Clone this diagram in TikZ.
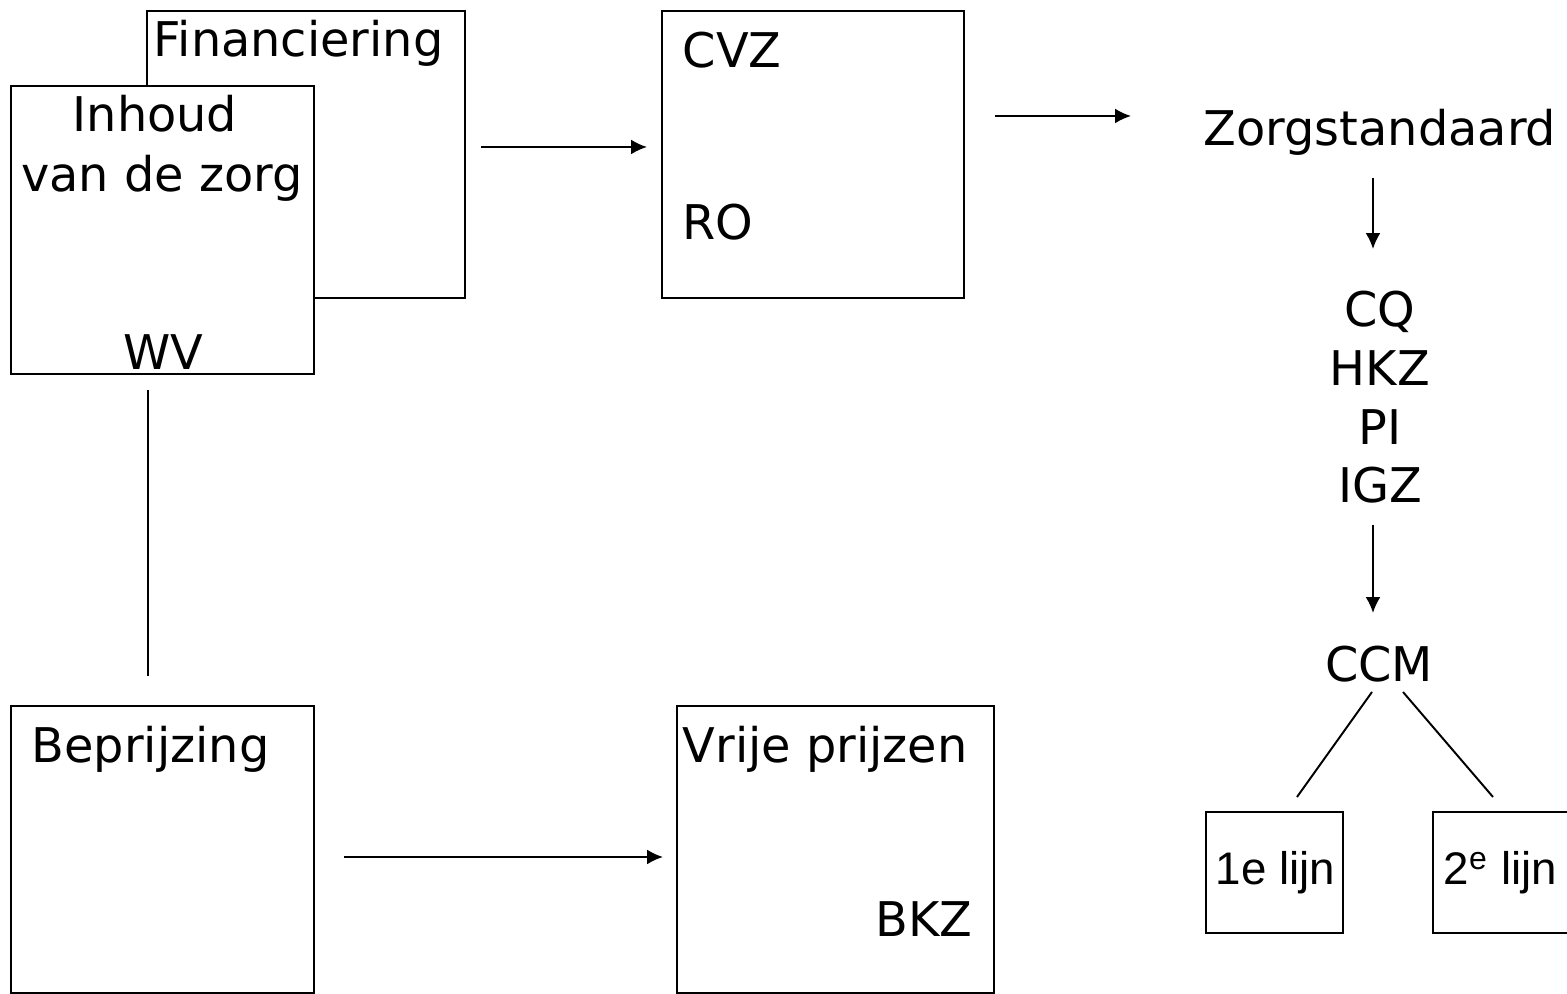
\documentclass[tikz,border=0pt]{standalone}
\usepackage{fontspec}
\setmainfont{DejaVu Sans}
\newfontfamily\arialfont{Liberation Sans}
\usetikzlibrary{arrows.meta}

\tikzset{
    box/.style={draw, line width=0.55pt, fill=white, inner sep=0pt, outer sep=0pt, anchor=north west},
    lbl/.style={inner sep=0pt, font=\fontsize{13.6}{17}\selectfont},
    lijnlbl/.style={inner sep=0pt, font=\arialfont\fontsize{13}{16}\selectfont},
    arr/.style={line width=0.55pt, -{Latex[length=4.5pt, width=4.2pt]}},
    link/.style={line width=0.55pt}
}

\begin{document}
\begin{tikzpicture}
    \useasboundingbox (0,0) rectangle (15.67,-9.94);

    % Top left: the two stacked boxes
    \node[box, minimum width=3.18cm, minimum height=2.87cm] (fin) at (1.47,-0.11) {};
    \node[lbl, anchor=base west] (finlbl) at (1.53,-0.57) {Financiering};
    \node[box, minimum width=3.03cm, minimum height=2.88cm] (inhoud) at (0.11,-0.86) {};
    \node[lbl, anchor=base] (inhoudlbl) at (1.55,-1.32) {Inhoud};
    \node[lbl, anchor=base] (zorglbl) at (1.62,-1.92) {van de zorg};
    \node[lbl, anchor=base] (wv) at (1.63,-3.70) {WV};

    % CVZ box
    \node[box, minimum width=3.02cm, minimum height=2.87cm] (cvz) at (6.62,-0.11) {};
    \node[lbl, anchor=base west] (cvzlbl) at (6.82,-0.68) {CVZ};
    \node[lbl, anchor=base west] (ro) at (6.82,-2.40) {RO};

    % Bottom boxes
    \node[box, minimum width=3.03cm, minimum height=2.87cm] (bepr) at (0.11,-7.06) {};
    \node[lbl, anchor=base west] (beprlbl) at (0.31,-7.63) {Beprijzing};
    \node[box, minimum width=3.17cm, minimum height=2.87cm] (vrij) at (6.77,-7.06) {};
    \node[lbl, anchor=base west] (vrijlbl) at (6.82,-7.63) {Vrije prijzen};
    \node[lbl, anchor=base east] (bkz) at (9.73,-9.37) {BKZ};

    % Right column
    \node[lbl, anchor=base] (zs) at (13.80,-1.46) {Zorgstandaard};
    \node[lbl, anchor=base] (cq) at (13.80,-3.27) {CQ};
    \node[lbl, anchor=base] (hkz) at (13.80,-3.86) {HKZ};
    \node[lbl, anchor=base] (pi) at (13.80,-4.45) {PI};
    \node[lbl, anchor=base] (igz) at (13.80,-5.03) {IGZ};
    \node[lbl, anchor=base] (ccm) at (13.79,-6.82) {CCM};

    % 1e / 2e lijn
    \node[box, minimum width=1.37cm, minimum height=1.21cm] (lijn1) at (12.06,-8.12) {};
    \node[lijnlbl, anchor=base west] (lijn1lbl) at (12.15,-8.85) {1e lijn};
    \node[box, minimum width=1.45cm, minimum height=1.21cm] (lijn2) at (14.33,-8.12) {};
    \node[lijnlbl, anchor=base west] (lijn2lbl) at (14.43,-8.85) {2\textsuperscript{e} lijn};

    % Arrow ends
    \coordinate (a1s) at (4.81,-1.47);
    \coordinate (a1e) at (6.47,-1.47);
    \coordinate (a2s) at (9.95,-1.16);
    \coordinate (a2e) at (11.31,-1.16);
    \coordinate (a3s) at (3.44,-8.57);
    \coordinate (a3e) at (6.63,-8.57);
    \coordinate (a4s) at (13.73,-1.78);
    \coordinate (a4e) at (13.73,-2.49);
    \coordinate (a5s) at (13.73,-5.25);
    \coordinate (a5e) at (13.73,-6.13);
    \coordinate (v1s) at (1.48,-3.90);
    \coordinate (v1e) at (1.48,-6.76);
    \coordinate (c1s) at (13.72,-6.92);
    \coordinate (c1e) at (12.97,-7.97);
    \coordinate (c2s) at (14.03,-6.92);
    \coordinate (c2e) at (14.93,-7.97);

    % Connectors
    \draw[arr] (a1s) -- (a1e);
    \draw[arr] (a2s) -- (a2e);
    \draw[arr] (a3s) -- (a3e);
    \draw[arr] (a4s) -- (a4e);
    \draw[arr] (a5s) -- (a5e);
    \draw[link] (v1s) -- (v1e);
    \draw[link] (c1s) -- (c1e);
    \draw[link] (c2s) -- (c2e);
\end{tikzpicture}
\end{document}
